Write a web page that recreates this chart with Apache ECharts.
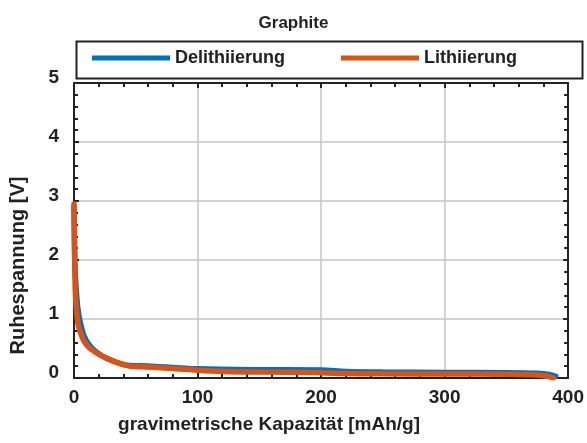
<!DOCTYPE html>
<html>
<head>
<meta charset="utf-8">
<script src="https://cdn.jsdelivr.net/npm/echarts@6/dist/echarts.min.js"></script>
<style>
  html, body { margin: 0; padding: 0; background: #fff; }
  #chart { width: 587px; height: 443px; }
</style>
</head>
<body>
<div id="chart"></div>
<script>
// Open-circuit voltage of graphite vs. gravimetric capacity
const chartTitle = 'Graphite';
const seriesNames = ['Delithiierung', 'Lithiierung'];
const xTicks = [0, 100, 200, 300, 400];
const yTicks = [0, 1, 2, 3, 4, 5];

// [capacity mAh/g, voltage V]
const delithiierung = [
  [0, 2.9], [0.3, 2.4], [0.6, 2.0], [1.5, 1.6], [3, 1.2], [5, 0.95], [8, 0.72],
  [12, 0.57], [17, 0.46], [23, 0.37], [30, 0.3], [38, 0.24], [45, 0.21],
  [60, 0.205], [80, 0.18], [100, 0.155], [150, 0.14], [200, 0.135],
  [220, 0.11], [250, 0.1], [300, 0.095], [350, 0.09], [375, 0.08],
  [385, 0.06], [390, 0.03]
];
const lithiierung = [
  [0, 2.95], [0.3, 2.5], [0.6, 2.0], [1, 1.5], [1.8, 1.2], [3, 0.95], [5, 0.78],
  [8, 0.63], [12, 0.52], [17, 0.44], [22, 0.38], [28, 0.32], [34, 0.27],
  [40, 0.23], [46, 0.2], [60, 0.185], [80, 0.16], [100, 0.13], [120, 0.11],
  [150, 0.1], [200, 0.09], [220, 0.075], [250, 0.07], [300, 0.068],
  [350, 0.062], [375, 0.05], [383, 0.03], [388, 0.0]
];

const FONT = '"Liberation Sans", Arial, sans-serif';
const INK = '#222';
const colors = ['#0072BD', '#D95319'];

function axisBase(isX, mirror) {
  const ticks = isX ? xTicks : yTicks;
  const label = isX ? {
    show: true, color: INK, fontFamily: FONT, fontWeight: 'bold', fontSize: 19, margin: 10
  } : {
    show: true, margin: 15,
    formatter: '{v|{value}}',
    rich: { v: { color: INK, fontFamily: FONT, fontWeight: 'bold', fontSize: 19, padding: [0, 0, 10, 0] } }
  };
  return {
    type: 'value',
    min: ticks[0],
    max: ticks[ticks.length - 1],
    interval: ticks[1] - ticks[0],
    axisLine: { show: true, onZero: false, lineStyle: { color: INK, width: 2 } },
    axisTick: { show: true, inside: true, length: 5, lineStyle: { color: INK, width: 2 } },
    minorTick: { show: true, splitNumber: 5, length: 4, lineStyle: { color: INK, width: 2 } },
    splitLine: { show: !mirror, lineStyle: { color: '#c4c4c4', width: 1.5 } },
    axisLabel: mirror ? { show: false } : label
  };
}

const xBottom = Object.assign(axisBase(true, false), {
  position: 'bottom',
  name: 'gravimetrische Kapazität [mAh/g]',
  nameLocation: 'middle',
  nameGap: 37,
  nameTextStyle: { color: INK, fontFamily: FONT, fontWeight: 'bold', fontSize: 19, padding: [0, 104, 0, 0] }
});
const xTop = Object.assign(axisBase(true, true), { position: 'top' });

const yLeft = Object.assign(axisBase(false, false), {
  position: 'left',
  name: 'Ruhespannung [V]',
  nameLocation: 'middle',
  nameGap: 46,
  nameTextStyle: { color: INK, fontFamily: FONT, fontWeight: 'bold', fontSize: 20, padding: [0, 70, 0, 0] }
});
const yRight = Object.assign(axisBase(false, true), { position: 'right' });

const chart = echarts.init(document.getElementById('chart'), null, { renderer: 'canvas' });
chart.setOption({
  backgroundColor: '#fff',
  animation: false,
  title: {
    text: chartTitle,
    left: 'center',
    top: 10,
    textStyle: { color: INK, fontFamily: FONT, fontWeight: 'bold', fontSize: 17 }
  },
  legend: {
    left: 92,
    top: 49,
    padding: 0,
    itemWidth: 78,
    itemHeight: 5,
    itemGap: 56,
    icon: 'rect',
    data: seriesNames,
    textStyle: { color: INK, fontFamily: FONT, fontWeight: 'bold', fontSize: 18 }
  },
  graphic: [{
    type: 'rect',
    left: 74,
    top: 39,
    shape: { width: 506, height: 37 },
    style: { fill: 'none', stroke: INK, lineWidth: 2 },
    silent: true
  }],
  grid: { left: 74, right: 7, top: 83, bottom: 65, containLabel: false },
  xAxis: [xBottom, xTop],
  yAxis: [yLeft, yRight],
  series: [
    {
      name: seriesNames[0],
      type: 'line',
      data: delithiierung,
      smooth: 0.3,
      showSymbol: false,
      lineStyle: { color: colors[0], width: 5.5, cap: 'round' },
      itemStyle: { color: colors[0] },
      z: 2
    },
    {
      name: seriesNames[1],
      type: 'line',
      data: lithiierung,
      smooth: 0.3,
      showSymbol: false,
      lineStyle: { color: colors[1], width: 5.5, cap: 'round' },
      itemStyle: { color: colors[1] },
      z: 3
    }
  ]
});
</script>
</body>
</html>
